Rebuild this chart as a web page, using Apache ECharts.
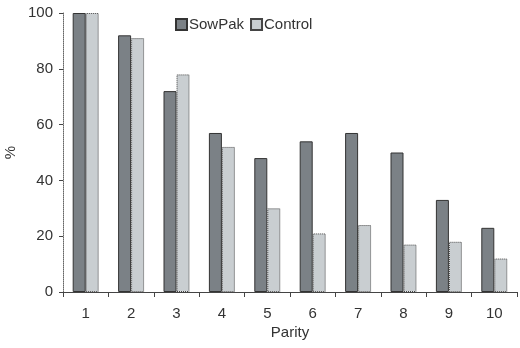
<!DOCTYPE html>
<html><head><meta charset="utf-8">
<script src="https://cdn.jsdelivr.net/npm/echarts@6/dist/echarts.min.js"></script>
<style>html,body{margin:0;padding:0;background:#fff}#c{width:520px;height:348px}</style>
</head><body><div id="c"></div>
<script>
const categories = ['1','2','3','4','5','6','7','8','9','10'];
const sowPak = [100, 92, 72, 57, 48, 54, 57, 50, 33, 23];
const control = [100, 91, 78, 52, 30, 21, 24, 17, 18, 12];
const seriesNames = ['SowPak', 'Control'];

const chart = echarts.init(document.getElementById('c'), null, {renderer: 'canvas'});
const font = 'Liberation Sans, Arial, sans-serif';
chart.setOption({
  animation: false,
  backgroundColor: '#fff',
  legend: {
    top: 12, left: 170, icon: 'rect',
    itemWidth: 11, itemHeight: 11, itemGap: 6,
    textStyle: {fontFamily: font, fontSize: 15, color: '#333', padding: [0,0,0,-3]},
    data: seriesNames
  },
  grid: {left: 63, right: 3, top: 13, bottom: 56, containLabel: false, outerBoundsMode: 'none'},
  xAxis: {
    type: 'category', data: categories,
    name: 'Parity', nameLocation: 'middle', nameGap: 33, nameMoveOverlap: false,
    nameTextStyle: {fontFamily: font, fontSize: 15, color: '#333'},
    axisLine: {lineStyle: {color: '#444', width: 1}},
    axisTick: {show: true, alignWithLabel: false, length: 5, lineStyle: {color: '#444'}},
    axisLabel: {fontFamily: font, fontSize: 15, color: '#333', margin: 14}
  },
  yAxis: {
    type: 'value', min: 0, max: 100, interval: 20,
    name: '%', nameLocation: 'middle', nameGap: 45, nameRotate: 90, nameMoveOverlap: false,
    nameTextStyle: {fontFamily: font, fontSize: 15, color: '#333'},
    axisLine: {show: true, lineStyle: {color: '#666', width: 1, type: 'dotted'}},
    axisTick: {show: true, length: 4, lineStyle: {color: '#444'}},
    axisLabel: {fontFamily: font, fontSize: 15, color: '#333', margin: 10},
    splitLine: {show: false}
  },
  series: [
    {name: seriesNames[0], type: 'bar', data: sowPak, barWidth: 13, barGap: '0%',
     itemStyle: {color: '#7b8186', borderColor: '#333', borderWidth: 1}},
    {name: seriesNames[1], type: 'bar', data: control, barWidth: 13,
     itemStyle: {color: '#c9ced1', borderColor: '#444', borderWidth: 1, borderType: 'dotted'}}
  ]
});
</script></body></html>
